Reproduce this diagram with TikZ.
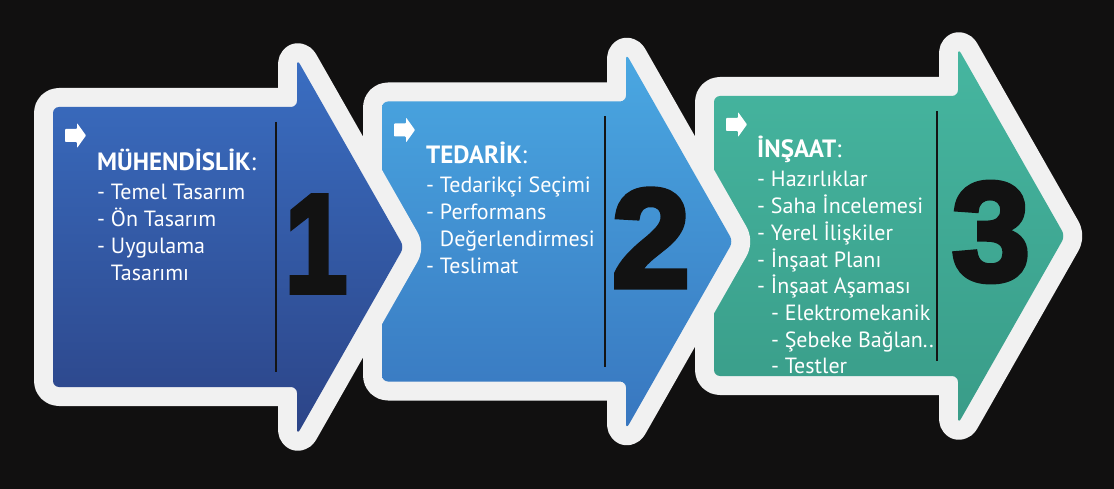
\documentclass[tikz,border=0pt]{standalone}
\usepackage{fontspec}
\setmainfont{PT Sans}
\newfontfamily\digitfont[BoldFeatures={FakeBold=4}]{Liberation Sans}
\usetikzlibrary{positioning}

\definecolor{bgdark}{HTML}{111010}
\definecolor{rim}{HTML}{F1F1F1}
\definecolor{s1top}{HTML}{3A6EC2}
\definecolor{s1mid}{HTML}{3463B3}
\definecolor{s1bot}{HTML}{2C4487}
\definecolor{s2top}{HTML}{4AA8E2}
\definecolor{s2mid}{HTML}{48A2DC}
\definecolor{s2bot}{HTML}{3876BF}
\definecolor{s3top}{HTML}{46B6A0}
\definecolor{s3mid}{HTML}{4DC2AE}
\definecolor{s3bot}{HTML}{399C88}

\newcommand{\steppath}{(0,-140) -- (244,-140) -- (244,-188) -- (351,0) -- (244,188) -- (244,140) -- (0,140) -- cycle}

\tikzset{
  stepborder/.style={draw=rim, line width=38pt, line join=round, rounded corners=6pt},
  stepfill/.style={top color=s#1top, middle color=s#1mid, bottom color=s#1bot, rounded corners=6pt},
  stepdivider/.style={draw=black!92, line width=2.2pt},
  stepicon/.style={fill=white, rounded corners=0.8pt},
  steptitle/.style={anchor=base west, inner sep=0pt, text=white, font=\fontsize{25}{29}\selectfont\bfseries},
  stepitem/.style={anchor=base west, inner sep=0pt, text=white, font=\fontsize{22}{26}\selectfont},
  stepnum/.style={inner sep=0pt, text=black!93, font=\digitfont\bfseries\fontsize{140}{140}\selectfont}
}

\begin{document}
\begin{tikzpicture}[x=1pt,y=-1pt]
  \useasboundingbox (0,0) rectangle (1114,489);
  \fill[bgdark] (0,0) rectangle (1114,489);

  % the three arrows, back to front
  \foreach \n/\x/\y in {3/714/236, 2/382/241.5, 1/53/247} {
    \begin{scope}[shift={(\x,\y)}]
      \draw[stepborder] \steppath;
      \shade[stepfill=\n] \steppath;
      \coordinate (d\n-top) at (223,-125);
      \coordinate (d\n-bot) at (223,125);
      \draw[stepdivider] (d\n-top) -- (d\n-bot);
      \fill[stepicon] (12,-118) -- (24,-118) -- (24,-124) -- (33,-111.5) -- (24,-99) -- (24,-105) -- (12,-105) -- cycle;
    \end{scope}
  }

  % step 1
  \begin{scope}[shift={(53,247)}]
    \node[steptitle] (title1) at (44,-76) {MÜHENDİSLİK\textmd{:}};
    \foreach \t [count=\i] in {- Temel Tasarım, - Ön Tasarım, - Uygulama, \phantom{- }Tasarımı}
      \node[stepitem] (item1-\i) at (44,-47+26.7*\i-26.7) {\t};
    \node[stepnum] (num1) at (263,-3) {\scalebox{0.8}[1]{1}};
  \end{scope}

  % step 2
  \begin{scope}[shift={(382,241.5)}]
    \node[steptitle] (title2) at (44,-77.5) {TEDARİK\textmd{:}};
    \foreach \t [count=\i] in {- Tedarikçi Seçimi, - Performans, \phantom{- }Değerlendirmesi, - Teslimat}
      \node[stepitem] (item2-\i) at (44,-48.5+26.7*\i-26.7) {\t};
    \node[stepnum] (num2) at (269,-3.5) {2};
  \end{scope}

  % step 3
  \begin{scope}[shift={(714,236)}]
    \node[steptitle] (title3) at (43,-78) {İNŞAAT\textmd{:}};
    \foreach \t [count=\i] in {- Hazırlıklar, - Saha İncelemesi, - Yerel İlişkiler, - İnşaat Planı, - İnşaat Aşaması, \phantom{- }- Elektromekanik, \phantom{- }- Şebeke Bağlan.., \phantom{- }- Testler}
      \node[stepitem] (item3-\i) at (43,-49+26.7*\i-26.7) {\t};
    \node[stepnum] (num3) at (277,-4) {3};
  \end{scope}
\end{tikzpicture}
\end{document}
